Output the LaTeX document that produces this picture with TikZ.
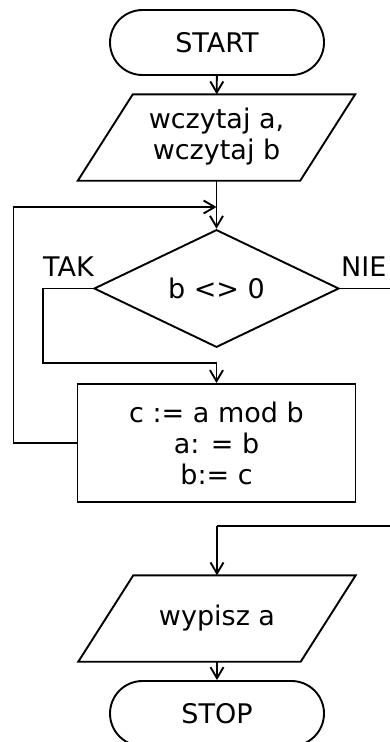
\documentclass[tikz,border=0pt]{standalone}
\usepackage{fontspec}
\setmainfont{DejaVu Sans}
\usetikzlibrary{shapes.geometric,shapes.misc,arrows.meta}

\begin{document}
\begin{tikzpicture}[x=1pt,y=-1pt,
  line/.style={line width=1.9pt, draw=black},
  flow/.style={line, -{Straight Barb[length=11pt,width=13pt,line width=1.9pt]}},
  txt/.style={font=\fontsize{27}{31}\selectfont, align=center, inner sep=0pt},
  terminal/.style={txt, line, shape=rounded rectangle, minimum width=214pt, minimum height=65pt},
  iobox/.style={txt, minimum width=277pt, minimum height=86pt},
  procbox/.style={txt, line, shape=rectangle, minimum width=278pt, minimum height=118pt},
  decision/.style={txt, line, shape=diamond, minimum width=245pt, minimum height=107pt},
  lbl/.style={font=\fontsize{27}{31}\selectfont, inner sep=0pt, anchor=base west}
]
\useasboundingbox (0,0) rectangle (390,742);

% blocks
\node[terminal] (start) at (217,42.5) {START};
\node[iobox]    (in1)   at (216.5,137.5)
  {\raisebox{-3pt}{\begin{tabular}{@{}c@{}}wczytaj a,\\wczytaj b\end{tabular}}};
\node[decision] (dec)   at (216.5,288.5) {b <> 0};
\node[procbox]  (proc)  at (216.5,443) {c := a mod b\\a: = b\\b:= c};
\node[iobox]    (out1)  at (217,618.5) {wypisz a};
\node[terminal] (stop)  at (217,713.5) {STOP};

% parallelogram outlines for the input/output blocks
\foreach \n in {in1,out1}
  \draw[line] ([xshift=55pt]\n.north west) -- (\n.north east)
     -- ([xshift=-55pt]\n.south east) -- (\n.south west) -- cycle;

% branch labels
\node[lbl] (tak) at (43,276.5) {TAK};
\node[lbl] (nie) at (341,276.5) {NIE};

% junction points
\coordinate (join)   at (216.5,207);
\coordinate (loopL)  at (13.5,207);
\coordinate (takL)   at (43,288.5);
\coordinate (takB)   at (43,363);
\coordinate (takJ)   at (216.5,363);
\coordinate (nieR)   at (390,288.5);
\coordinate (retR)   at (390,526);
\coordinate (retJ)   at (217,526);

% connectors
\draw[flow] (start) -- (in1);
\draw[line] (in1.south) -- (join);
\draw[flow] (join) -- (dec.north);
\draw[flow] (proc.west) -| (loopL) -- (join);
\draw[line] (dec.west) -- (takL) -- (takB) -- (takJ);
\draw[flow] (takJ) -- (proc.north);
\draw[line] (dec.east) -- (nieR);
\draw[line] (retR) -- (retJ);
\draw[flow] (retJ) -- (out1.north);
\draw[flow] (out1) -- (stop);
\end{tikzpicture}
\end{document}
